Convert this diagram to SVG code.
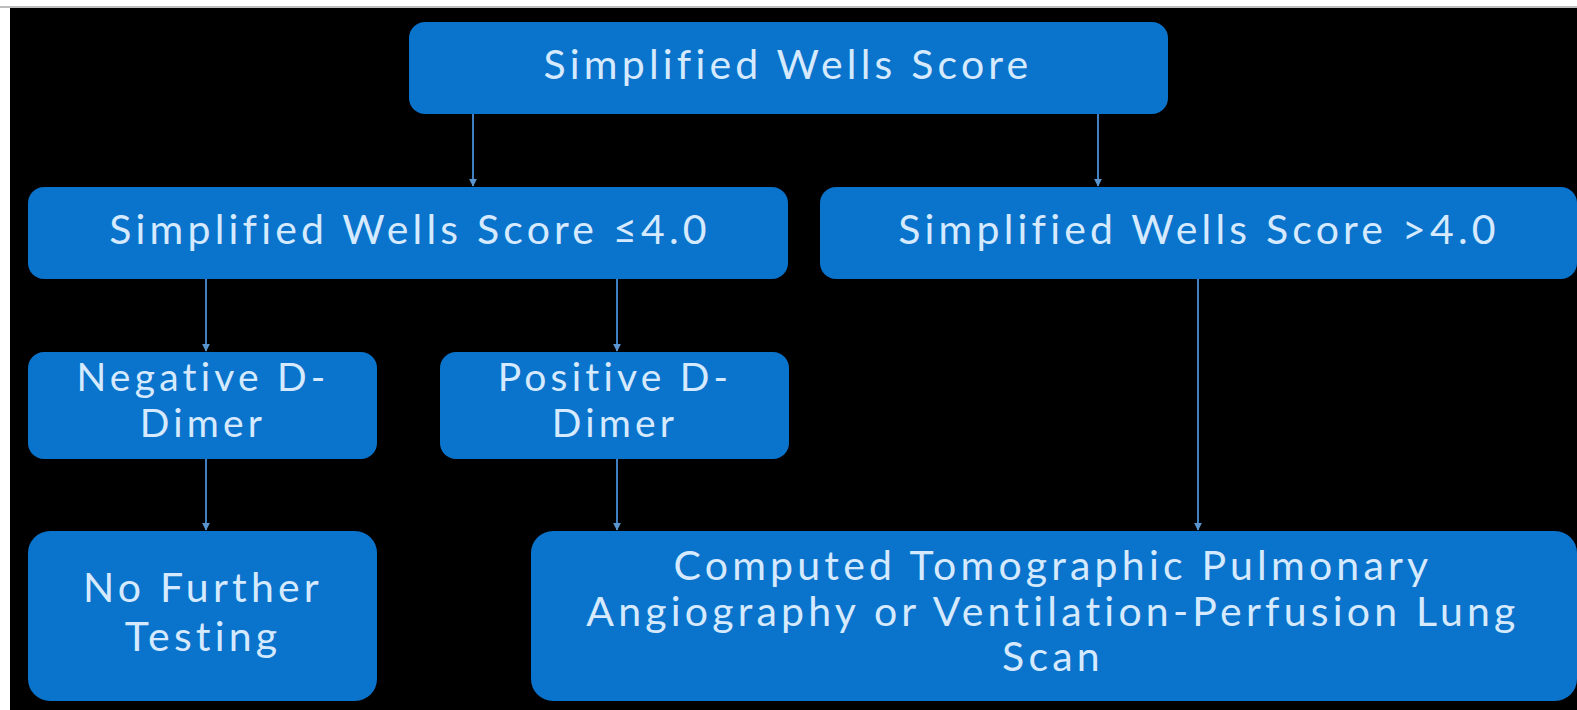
<svg xmlns="http://www.w3.org/2000/svg" width="1577" height="710" viewBox="0 0 1577 710">
<style>
.node{fill:#0a73cb}
.t{font-family:Lato,"Open Sans","Liberation Sans",sans-serif;font-size:41px;letter-spacing:4.2px;fill:#d6eaff;text-anchor:middle}
.s{font-size:39px}
.c{stroke:#3f7fc2;stroke-width:2;fill:none;marker-end:url(#ah)}
</style>
<defs>
<marker id="ah" viewBox="0 0 10 10" refX="9" refY="5" markerWidth="4" markerHeight="4" orient="auto" markerUnits="strokeWidth">
<path d="M0,0 L10,5 L0,10 z" fill="#5a95d0"/>
</marker>
</defs>
<rect x="0" y="0" width="1577" height="710" fill="#ffffff"/>
<rect x="0" y="6" width="1577" height="2" fill="#bdbdbd"/>
<rect x="10" y="8" width="1567" height="702" fill="#000000"/>
<g id="connectors">
<line class="c" x1="473" y1="114" x2="473" y2="186"/>
<line class="c" x1="1098" y1="114" x2="1098" y2="186"/>
<line class="c" x1="206" y1="279" x2="206" y2="351"/>
<line class="c" x1="617" y1="279" x2="617" y2="351"/>
<line class="c" x1="206" y1="459" x2="206" y2="530"/>
<line class="c" x1="617" y1="459" x2="617" y2="530"/>
<line class="c" x1="1198" y1="279" x2="1198" y2="530"/>
</g>
<g id="n-top">
<rect class="node" x="409" y="22" width="759" height="92" rx="16"/>
<text class="t" x="788" y="79">Simplified Wells Score</text>
</g>
<g id="n-low">
<rect class="node" x="28" y="187" width="760" height="92" rx="16"/>
<text class="t" x="410" y="244">Simplified Wells Score ≤4.0</text>
</g>
<g id="n-high">
<rect class="node" x="820" y="187" width="757" height="92" rx="16"/>
<text class="t" x="1199" y="244">Simplified Wells Score &gt;4.0</text>
</g>
<g id="n-neg">
<rect class="node" x="28" y="352" width="349" height="107" rx="16"/>
<text class="t s" x="203" y="391">Negative D-</text>
<text class="t s" x="203" y="437">Dimer</text>
</g>
<g id="n-pos">
<rect class="node" x="440" y="352" width="349" height="107" rx="16"/>
<text class="t s" x="615" y="391">Positive D-</text>
<text class="t s" x="615" y="437">Dimer</text>
</g>
<g id="n-none">
<rect class="node" x="28" y="531" width="349" height="170" rx="22"/>
<text class="t" x="203" y="602">No Further</text>
<text class="t" x="203" y="651">Testing</text>
</g>
<g id="n-ct">
<rect class="node" x="531" y="531" width="1046" height="170" rx="22"/>
<text class="t" x="1053" y="580">Computed Tomographic Pulmonary</text>
<text class="t" x="1053" y="626">Angiography or Ventilation-Perfusion Lung</text>
<text class="t" x="1053" y="671">Scan</text>
</g>
</svg>
